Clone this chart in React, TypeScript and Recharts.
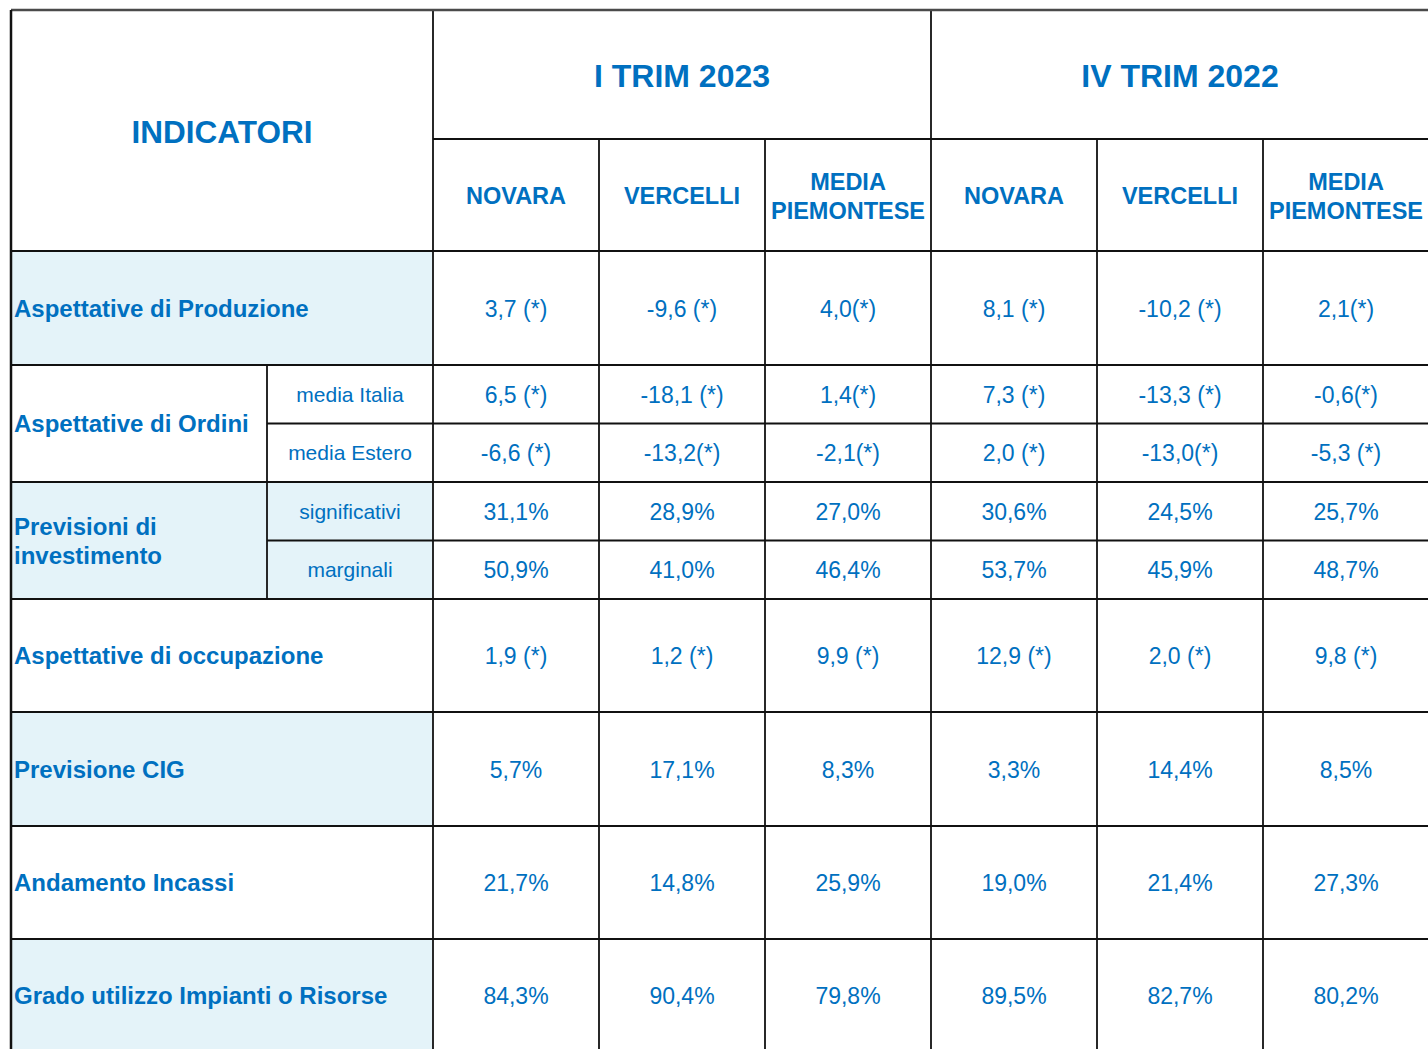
import { ComposedChart, XAxis, YAxis, Scatter, ReferenceLine, ReferenceArea } from 'recharts'

// --- table content ---
const title = 'INDICATORI'
const periods = ['I TRIM 2023', 'IV TRIM 2022']
const areas = [['NOVARA'], ['VERCELLI'], ['MEDIA', 'PIEMONTESE']]

const indicators = [
    ['Aspettative di Produzione'],
    ['Aspettative di Ordini'],
    ['Previsioni di', 'investimento'],
    ['Aspettative di occupazione'],
    ['Previsione CIG'],
    ['Andamento Incassi'],
    ['Grado utilizzo Impianti o Risorse'],
]
const ordiniSub = ['media Italia', 'media Estero']
const investSub = ['significativi', 'marginali']

const produzione = ['3,7 (*)', '-9,6 (*)', '4,0(*)', '8,1 (*)', '-10,2 (*)', '2,1(*)']
const ordiniItalia = ['6,5 (*)', '-18,1 (*)', '1,4(*)', '7,3 (*)', '-13,3 (*)', '-0,6(*)']
const ordiniEstero = ['-6,6 (*)', '-13,2(*)', '-2,1(*)', '2,0 (*)', '-13,0(*)', '-5,3 (*)']
const investSignif = ['31,1%', '28,9%', '27,0%', '30,6%', '24,5%', '25,7%']
const investMarg = ['50,9%', '41,0%', '46,4%', '53,7%', '45,9%', '48,7%']
const occupazione = ['1,9 (*)', '1,2 (*)', '9,9 (*)', '12,9 (*)', '2,0 (*)', '9,8 (*)']
const cig = ['5,7%', '17,1%', '8,3%', '3,3%', '14,4%', '8,5%']
const incassi = ['21,7%', '14,8%', '25,9%', '19,0%', '21,4%', '27,3%']
const grado = ['84,3%', '90,4%', '79,8%', '89,5%', '82,7%', '80,2%']

// --- layout (page pixels) ---
const X0 = 0, X1 = 1428, Y0 = 0, Y1 = 1049
const left = 11, subX = 267, dataX = 433
const colW = 166
const headTop = 10, headMid = 139, headBot = 251
// body rows: [top, bottom]
const rowSpans: [number, number][] = [
    [251, 365], [365, 482], [482, 599], [599, 712], [712, 826], [826, 939], [939, 1052],
]
const shaded = [true, false, true, false, true, false, true]
const BLUE = '#0070C0'
const SHADE = '#E4F3F9'
const LINE = '#111'
const FONT = '"Liberation Sans", Arial, sans-serif'

const colCenter = (i: number) => dataX + colW * i + colW / 2
const mid = (a: number, b: number) => (a + b) / 2

type Pt = { x: number; y: number; lines: string[]; size: number; bold?: boolean; anchor?: string; lh?: number }

const TextShape = (p: any) => {
    const { cx, cy, payload } = p
    const d = payload as Pt
    const lh = d.lh ?? 29
    const start = cy - ((d.lines.length - 1) * lh) / 2
    return (
        <text
            textAnchor={d.anchor ?? 'middle'}
            fill={BLUE}
            fontSize={d.size}
            fontWeight={d.bold ? 700 : 400}
            fontFamily={FONT}
        >
            {d.lines.map((l, i) => (
                <tspan key={i} x={cx} y={start + i * lh} dominantBaseline="central">{l}</tspan>
            ))}
        </text>
    )
}

export default function App() {
    // header texts
    const header: Pt[] = [
        { x: mid(left, dataX), y: mid(headTop, headBot) + 1, lines: [title], size: 31.5, bold: true },
        ...periods.map((p, i) => ({
            x: dataX + colW * 3 * i + colW * 1.5, y: mid(headTop, headMid) + 1, lines: [p], size: 32, bold: true,
        })),
        ...[0, 1, 2, 3, 4, 5].map(i => ({
            x: colCenter(i), y: mid(headMid, headBot) + 1, lines: areas[i % 3], size: 23.5, bold: true,
        })),
    ]

    // row labels
    const rowLabels: Pt[] = indicators.map((lines, i) => ({
        x: left + 3, y: mid(rowSpans[i][0], rowSpans[i][1]), lines, size: 24, bold: true, anchor: 'start',
    }))

    // sub labels
    const subRows: [number, number][] = [
        [365, 423.5], [423.5, 482], [482, 540.5], [540.5, 599],
    ]
    const subLabels: Pt[] = [...ordiniSub, ...investSub].map((s, i) => ({
        x: mid(subX, dataX), y: mid(subRows[i][0], subRows[i][1]), lines: [s], size: 21,
    }))

    // values
    const valueRows: { vals: string[]; span: [number, number] }[] = [
        { vals: produzione, span: rowSpans[0] },
        { vals: ordiniItalia, span: subRows[0] },
        { vals: ordiniEstero, span: subRows[1] },
        { vals: investSignif, span: subRows[2] },
        { vals: investMarg, span: subRows[3] },
        { vals: occupazione, span: rowSpans[3] },
        { vals: cig, span: rowSpans[4] },
        { vals: incassi, span: rowSpans[5] },
        { vals: grado, span: rowSpans[6] },
    ]
    const values: Pt[] = valueRows.flatMap(r =>
        r.vals.map((v, i) => ({ x: colCenter(i), y: mid(r.span[0], r.span[1]) + 0.5, lines: [v], size: 23 }))
    )

    // grid lines
    const hLines: { y: number; x1: number }[] = [
        { y: headMid, x1: dataX },
        { y: headBot, x1: left },
        ...rowSpans.slice(1).map(s => ({ y: s[0], x1: left })),
        { y: subRows[0][1], x1: subX },
        { y: subRows[2][1], x1: subX },
    ]
    const vLines: { x: number; y1: number; y2: number }[] = [
        { x: dataX, y1: headTop, y2: Y1 },
        { x: dataX + colW * 3, y1: headTop, y2: Y1 },
        ...[1, 2, 4, 5].map(i => ({ x: dataX + colW * i, y1: headMid, y2: Y1 })),
        { x: subX, y1: rowSpans[1][0], y2: rowSpans[2][1] },
    ]

    return (
        <div style={{ position: 'fixed', left: 0, top: 0, background: '#fff' }}>
            <ComposedChart width={X1 - X0} height={Y1 - Y0} margin={{ top: 0, right: 0, bottom: 0, left: 0 }}>
                <XAxis type="number" dataKey="x" domain={[X0, X1]} allowDataOverflow hide />
                <YAxis type="number" dataKey="y" domain={[Y0, Y1]} allowDataOverflow reversed hide />

                {rowSpans.map((s, i) => shaded[i] ? (
                    <ReferenceArea key={`sh-${i}`} x1={left} x2={dataX} y1={s[0]} y2={Math.min(s[1], Y1)}
                        fill={SHADE} fillOpacity={1} stroke="none" ifOverflow="hidden" />
                ) : null)}

                {hLines.map((l, i) => (
                    <ReferenceLine key={`h-${i}`} segment={[{ x: l.x1, y: l.y }, { x: X1, y: l.y }]}
                        stroke={LINE} strokeWidth={1.8} ifOverflow="visible" />
                ))}
                {vLines.map((l, i) => (
                    <ReferenceLine key={`v-${i}`} segment={[{ x: l.x, y: l.y1 }, { x: l.x, y: l.y2 }]}
                        stroke={LINE} strokeWidth={1.8} ifOverflow="visible" />
                ))}
                <ReferenceLine segment={[{ x: left, y: headTop }, { x: X1, y: headTop }]}
                    stroke="#4a4a4a" strokeWidth={2.5} ifOverflow="visible" />
                <ReferenceLine segment={[{ x: left, y: headTop }, { x: left, y: Y1 }]}
                    stroke="#111" strokeWidth={2.5} ifOverflow="visible" />

                <Scatter data={header} shape={TextShape} isAnimationActive={false} />
                <Scatter data={rowLabels} shape={TextShape} isAnimationActive={false} />
                <Scatter data={subLabels} shape={TextShape} isAnimationActive={false} />
                <Scatter data={values} shape={TextShape} isAnimationActive={false} />
            </ComposedChart>
        </div>
    )
}
